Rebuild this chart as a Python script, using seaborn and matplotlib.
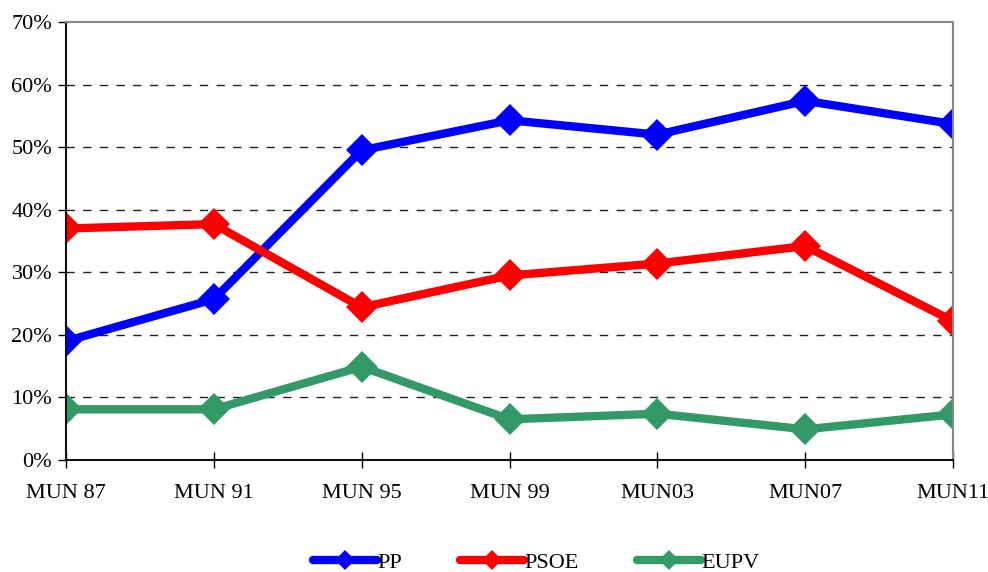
import matplotlib
matplotlib.use("Agg")
import matplotlib.pyplot as plt
import pandas as pd
import seaborn as sns
from matplotlib.ticker import PercentFormatter

elections = ["MUN 87", "MUN 91", "MUN 95", "MUN 99", "MUN03", "MUN07", "MUN11"]
pp = [19.0, 25.7, 49.5, 54.3, 52.0, 57.4, 53.7]
psoe = [37.0, 37.7, 24.4, 29.5, 31.4, 34.2, 22.2]
eupv = [8.1, 8.1, 14.9, 6.5, 7.4, 4.9, 7.3]

df = pd.DataFrame({"x": elections, "PP": pp, "PSOE": psoe, "EUPV": eupv})
long = df.melt(id_vars="x", var_name="party", value_name="pct")

sns.set_style("white")
plt.rcParams["font.family"] = ["Liberation Serif", "DejaVu Serif"]
plt.rcParams["text.color"] = "black"
plt.rcParams["xtick.color"] = "black"
plt.rcParams["ytick.color"] = "black"

fig = plt.figure(figsize=(9.88, 5.72), dpi=100)
ax = fig.add_axes([0.0668, 0.1958, 0.8978, 0.7657])

palette = {"PP": "#0000ff", "PSOE": "#ff0000", "EUPV": "#339966"}
sns.lineplot(data=long, x="x", y="pct", hue="party", style="party",
             markers={"PP": "D", "PSOE": "D", "EUPV": "D"}, dashes=False,
             palette=palette, linewidth=6, markersize=16,
             markeredgewidth=0, sort=False, ax=ax)

ax.set_xlim(0, len(elections) - 1)
ax.set_ylim(0, 70)
ax.set_yticks(range(0, 71, 10))
ax.yaxis.set_major_formatter(PercentFormatter(decimals=0))
ax.set_xlabel("")
ax.set_ylabel("")
for y in range(10, 70, 10):
    ax.axhline(y, color="#222222", lw=1, ls=(0, (6, 6)), zorder=0)

for side in ["left", "bottom"]:
    ax.spines[side].set_color("#111111")
    ax.spines[side].set_linewidth(1.5)
for side in ["top", "right"]:
    ax.spines[side].set_color("#888888")
    ax.spines[side].set_linewidth(1.5)

ax.tick_params(axis="y", left=True, direction="out", length=6, width=1,
               labelsize=16, pad=4, labelcolor="black")
ax.tick_params(axis="x", bottom=True, direction="inout", length=12, width=1,
               labelsize=16, pad=11, labelcolor="black")

leg = ax.legend(loc="upper center", bbox_to_anchor=(0.53, -0.165), ncol=3,
                frameon=False, fontsize=16, handlelength=2.9, handletextpad=0.0,
                columnspacing=2.6, markerscale=0.65)
for h in leg.get_lines():
    h.set_linewidth(6)
for t in leg.get_texts():
    t.set_color("black")

fig.savefig("out.png", dpi=100)
